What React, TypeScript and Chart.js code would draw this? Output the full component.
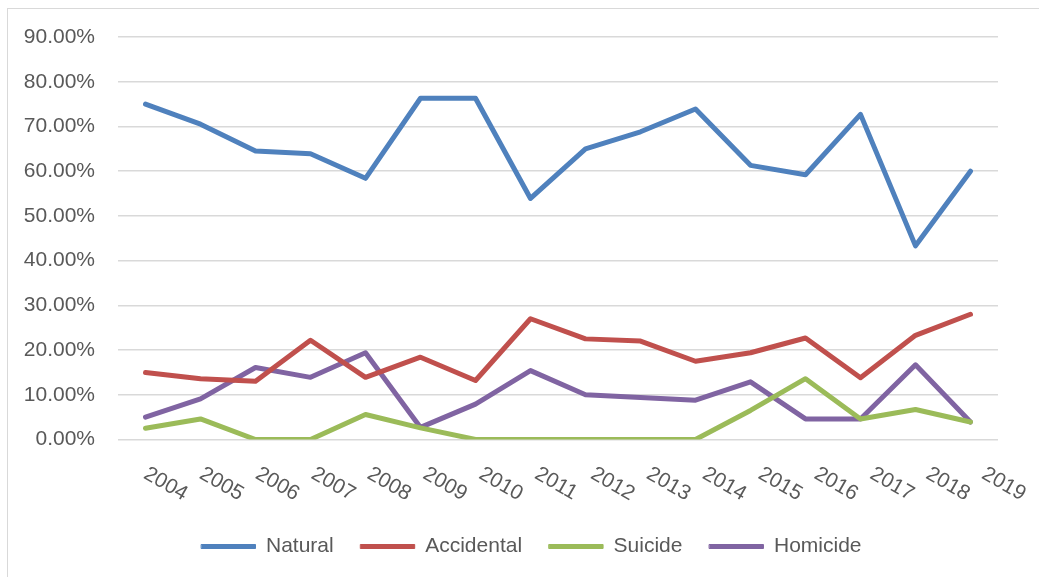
import React, { useEffect, useRef } from "react";
import { Chart, registerables } from "chart.js";

Chart.register(...registerables);

const years = ["2004","2005","2006","2007","2008","2009","2010","2011","2012","2013","2014","2015","2016","2017","2018","2019"];
const natural = [75.0, 70.5, 64.5, 63.9, 58.4, 76.3, 76.3, 53.9, 65.0, 68.8, 73.9, 61.3, 59.2, 72.7, 43.3, 60.0];
const accidental = [15.0, 13.6, 13.0, 22.2, 13.9, 18.4, 13.2, 27.0, 22.5, 22.0, 17.5, 19.4, 22.7, 13.8, 23.3, 28.0];
const suicide = [2.5, 4.6, 0, 0, 5.6, 2.6, 0, 0, 0, 0, 0, 6.5, 13.6, 4.6, 6.7, 3.9];
const homicide = [5.0, 9.1, 16.1, 13.9, 19.4, 2.7, 7.9, 15.4, 10.0, 9.4, 8.8, 12.9, 4.6, 4.6, 16.7, 3.9];
const yTicks = [0, 10, 20, 30, 40, 50, 60, 70, 80, 90];

const FONT = "'Liberation Sans', Arial, sans-serif";
const TEXT = "#595959";
const PAD_LEFT = 20;
const LEGEND_SHIFT = 45;

const xLabelPlugin = {
  id: "xLabels",
  afterLayout(chart: any) {
    const l = chart.legend;
    if (l) {
      l.left += LEGEND_SHIFT;
    }
  },
  afterDraw(chart: any) {
    const ctx = chart.ctx;
    const xs = chart.scales.x;
    const bottom = chart.chartArea.bottom;
    ctx.save();
    ctx.font = `21px ${FONT}`;
    ctx.fillStyle = TEXT;
    ctx.textAlign = "left";
    ctx.textBaseline = "alphabetic";
    years.forEach((lab, i) => {
      const x = xs.getPixelForValue(i) - 3 + i * 0.87;
      ctx.save();
      ctx.translate(x, bottom + 38);
      ctx.rotate(Math.PI / 6);
      ctx.fillText(lab, 0, 0);
      ctx.restore();
    });
    ctx.restore();
  },
};

export default function App() {
  const ref = useRef<HTMLCanvasElement>(null);
  useEffect(() => {
    const mk = (label: string, data: number[], color: string) => ({
      label,
      data,
      borderColor: color,
      backgroundColor: color,
      borderWidth: 5,
      pointRadius: 0,
      tension: 0,
      borderJoinStyle: "round" as const,
      borderCapStyle: "round" as const,
    });
    const chart = new Chart(ref.current!, {
      type: "line",
      data: {
        labels: years,
        datasets: [
          mk("Natural", natural, "#4F81BD"),
          mk("Accidental", accidental, "#C0504D"),
          mk("Suicide", suicide, "#9BBB59"),
          mk("Homicide", homicide, "#8064A2"),
        ],
      },
      options: {
        responsive: false,
        animation: false,
        layout: { padding: { left: PAD_LEFT, right: 41, top: 37, bottom: 10 } },
        scales: {
          x: {
            offset: true,
            grid: { display: false },
            border: { display: false },
            ticks: { display: false },
            afterFit: (s: any) => { s.height = 69.5; },
          },
          y: {
            min: 0,
            max: 90,
            afterBuildTicks: (s: any) => { s.ticks = yTicks.map((v) => ({ value: v })); },
            afterFit: (s: any) => { s.width = 118 - PAD_LEFT; },
            grid: { color: "#d9d9d9", lineWidth: 1.5, drawTicks: false },
            border: { display: false },
            ticks: {
              padding: 23,
              color: TEXT,
              font: { family: FONT, size: 21 },
              callback: (v: any) => Number(v).toFixed(2) + "%",
            },
          },
        },
        plugins: {
          legend: {
            position: "bottom",
            labels: {
              boxWidth: 54,
              boxHeight: 4,
              padding: 27,
              color: TEXT,
              font: { family: FONT, size: 21 },
              generateLabels: (c: any) =>
                Chart.defaults.plugins.legend.labels.generateLabels(c).map((l: any) => ({
                  ...l,
                  lineWidth: 1,
                  strokeStyle: l.fillStyle,
                  lineCap: "round",
                  lineJoin: "round",
                })),
            },
          },
          tooltip: { enabled: false },
        },
      },
      plugins: [xLabelPlugin],
    });
    return () => chart.destroy();
  }, []);
  return (
    <div style={{ position: "fixed", left: 0, top: 0, width: 1039, height: 577, overflow: "hidden", background: "#fff" }}>
      <div style={{ position: "absolute", left: 7, top: 8, width: 1200, height: 800, border: "1px solid #d9d9d9" }} />
      <canvas ref={ref} width={1039} height={577} style={{ position: "absolute", left: 0, top: 0, width: 1039, height: 577 }} />
    </div>
  );
}
